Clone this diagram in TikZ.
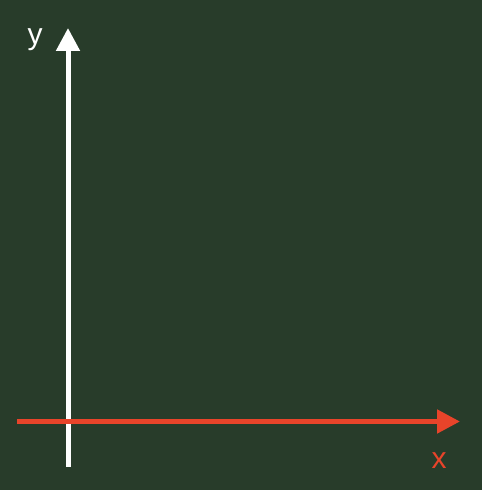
\documentclass[tikz,border=0pt]{standalone}
\usepackage{fontspec}
\setmainfont{Liberation Sans}
\usetikzlibrary{arrows.meta}
\definecolor{board}{HTML}{283C2A}
\definecolor{axisred}{HTML}{E8442A}
\begin{document}
\begin{tikzpicture}[x=1pt, y=1pt, >={Triangle[length=23pt, width=23pt]}]
    \fill[board] (0,0) rectangle (482,490);
    \useasboundingbox (0,0) rectangle (482,490);
    \coordinate (ybot) at (68,23);
    \coordinate (ytop) at (68,462);
    \coordinate (xleft) at (17,68.5);
    \coordinate (xright) at (460,68.5);
    \draw[->, white, line width=5pt] (ybot) -- (ytop);
    \draw[->, axisred, line width=5pt] (xleft) -- (xright);
    \node[white, font=\fontsize{30}{30}\selectfont] (ylabel) at (35,450) {y};
    \node[axisred, font=\fontsize{30}{30}\selectfont] (xlabel) at (439,29) {x};
\end{tikzpicture}
\end{document}
